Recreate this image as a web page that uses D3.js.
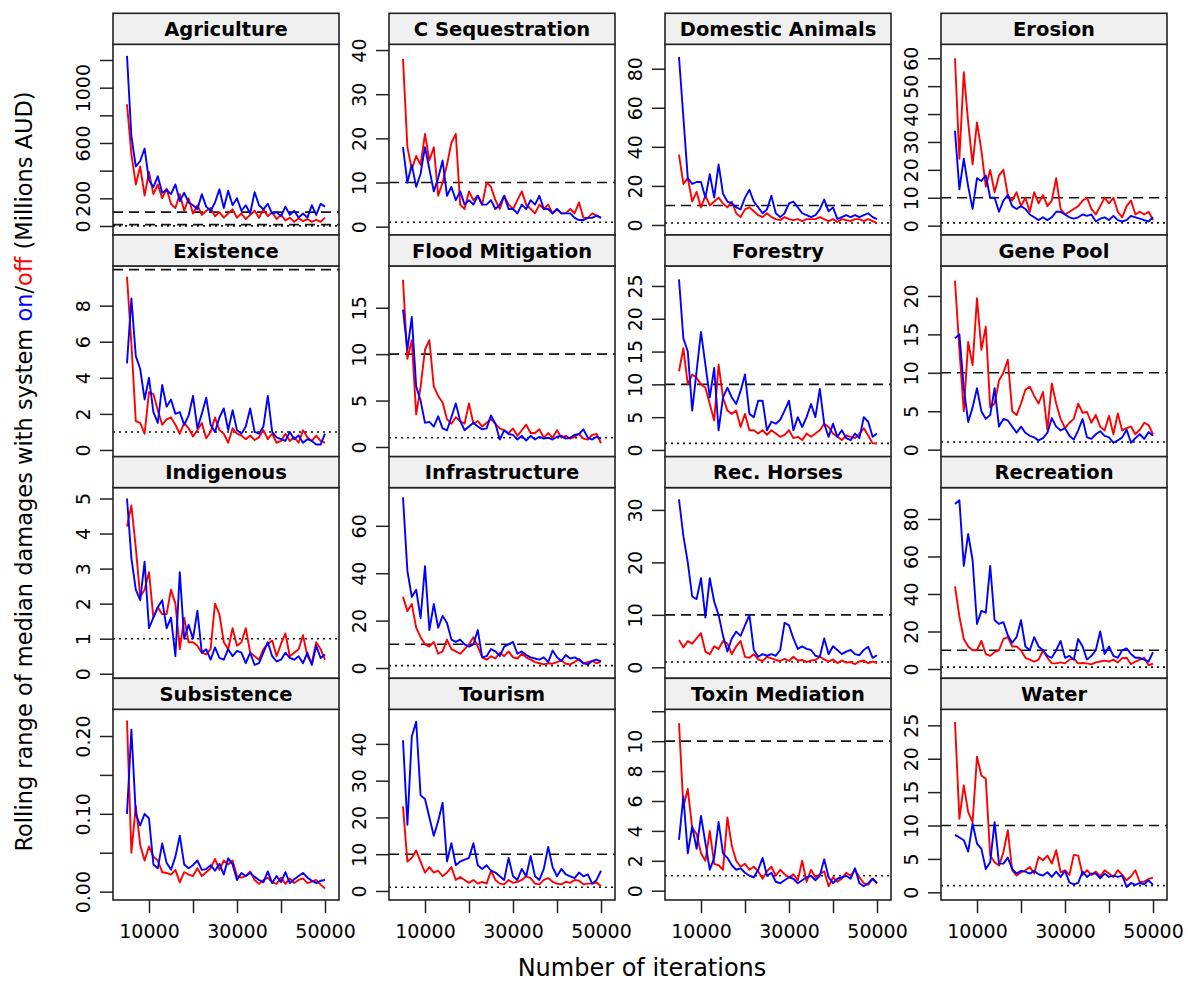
<!DOCTYPE html>
<html>
<head>
<meta charset="utf-8">
<script src="https://cdn.jsdelivr.net/npm/d3@7"></script>
<style>
  html, body { margin: 0; padding: 0; background: #fff; }
  svg { display: block; font-family: "DejaVu Sans", sans-serif; }
</style>
</head>
<body>
<svg id="chart" width="1188" height="983"></svg>
<script>
// Iteration count at which each rolling range was evaluated
const iterations = [5000, 6000, 7000, 8000, 9000, 10000, 11000, 12000, 13000, 14000,
  15000, 16000, 17000, 18000, 19000, 20000, 21000, 22000, 23000, 24000,
  25000, 26000, 27000, 28000, 29000, 30000, 31000, 32000, 33000, 34000,
  35000, 36000, 37000, 38000, 39000, 40000, 41000, 42000, 43000, 44000,
  45000, 46000, 47000, 48000, 49000, 50000];

const categories = ["Agriculture", "C Sequestration", "Domestic Animals", "Erosion",
  "Existence", "Flood Mitigation", "Forestry", "Gene Pool",
  "Indigenous", "Infrastructure", "Rec. Horses", "Recreation",
  "Subsistence", "Tourism", "Toxin Mediation", "Water"];

// Rolling range of median damages, system on (blue) / off (red)
const agricultureOn = [1230, 650, 430, 470, 560, 330, 280, 360, 240, 260, 230, 300, 180, 240, 170, 150, 120, 230, 140, 110, 170, 265, 130, 255, 150, 200, 110, 150, 90, 245, 150, 120, 160, 90, 100, 70, 140, 80, 110, 60, 90, 60, 150, 80, 160, 140];
const agricultureOff = [880, 520, 300, 430, 220, 390, 230, 300, 200, 270, 160, 130, 230, 110, 200, 90, 150, 80, 110, 130, 70, 100, 60, 90, 120, 60, 90, 50, 80, 110, 60, 120, 70, 100, 50, 80, 40, 60, 30, 55, 35, 50, 30, 45, 30, 60];
const cSequestrationOn = [18, 10, 14, 9, 12, 18, 13, 8, 11, 15, 7, 9, 6, 8, 5, 6, 5, 7, 5, 5, 6, 4, 5, 7, 4, 4, 3, 5, 4, 6, 5, 7, 4, 4, 3, 4, 3, 3, 3, 2, 1.5, 1.5, 2, 2, 2.5, 2];
const cSequestrationOff = [38, 18, 13, 16, 14, 21, 15, 18, 7, 10, 14, 19, 21, 5, 4, 8, 6, 7, 5, 10, 9, 6, 4, 7, 5, 4, 6, 8, 5, 4, 3, 5, 4, 5, 3, 4, 3, 3, 4, 3, 5.5, 2, 2, 3, 2.5, 2];
const domesticAnimalsOn = [86, 55, 24, 21, 22, 22, 14, 26, 14, 31, 16, 12, 11, 9, 8, 14, 18, 12, 9, 6, 8, 15, 6, 4, 6, 11, 12, 9, 6, 5, 4, 5, 8, 13, 7, 9, 3, 4, 5, 4, 5, 4, 5, 6, 4, 3];
const domesticAnimalsOff = [36, 21, 24, 12, 17, 9, 15, 10, 12, 14, 11, 9, 12, 6, 4, 8, 9, 7, 5, 4, 6, 4, 3, 2.5, 4, 3, 2.5, 3, 2, 3, 3, 3, 4, 3, 2, 3, 1.5, 3, 2.5, 2, 3, 3, 2, 3, 2, 1];
const erosionOn = [34, 13, 24, 14, 6, 17, 16, 18, 10, 10, 5, 9, 11, 7, 6, 7, 6, 4, 3, 2, 3, 2, 3, 5, 5, 4, 3, 2.5, 3, 4, 3.5, 4, 1.5, 2.5, 3, 2, 3.5, 2, 1.5, 2, 3.5, 3, 2.5, 2, 1.5, 3];
const erosionOff = [60, 24, 55, 37, 22, 37, 27, 14, 20, 12, 18, 20, 11, 9, 12, 7, 10, 5, 12, 8, 11, 7, 9, 17, 6, 4, 5, 6, 7, 9, 10, 6, 4, 7, 10, 8, 10, 5, 3, 7, 9, 4, 5, 4, 5, 2];
const existenceOn = [4.8, 8.4, 5.2, 4.5, 2.8, 4.0, 2.1, 1.5, 3.6, 2.4, 2.8, 2.0, 2.1, 1.4, 1.9, 3.0, 1.2, 2.0, 2.9, 1.4, 1.0, 1.8, 2.3, 1.1, 2.2, 1.1, 0.9, 1.3, 2.3, 1.0, 0.9, 1.3, 3.0, 1.0, 0.7, 0.6, 0.5, 1.0, 0.6, 0.8, 0.4, 0.6, 0.5, 0.3, 0.3, 0.9];
const existenceOff = [9.6, 5.9, 1.6, 1.5, 0.9, 3.2, 3.1, 2.2, 1.4, 1.7, 1.8, 1.4, 0.9, 1.5, 1.2, 0.75, 1.1, 1.5, 0.65, 1.0, 1.8, 1.1, 0.9, 0.4, 1.2, 0.9, 0.8, 0.6, 0.8, 0.55, 0.7, 1.1, 0.6, 0.9, 0.4, 0.5, 0.9, 0.5, 0.7, 0.4, 1.1, 0.7, 0.5, 0.8, 0.5, 0.4];
const floodMitigationOn = [14.8, 10.5, 14, 6.5, 5.0, 2.6, 2.7, 2.2, 3.3, 2.0, 1.8, 3.2, 4.7, 2.8, 1.8, 2.2, 2.6, 2.2, 1.9, 2.0, 3.4, 2.5, 0.8, 1.8, 1.4, 1.3, 0.8, 1.2, 0.7, 1.2, 0.8, 1.1, 0.9, 1.0, 0.8, 1.1, 1.2, 0.9, 1.0, 1.3, 1.4, 1.9, 1.0, 0.8, 1.1, 0.9];
const floodMitigationOff = [18, 9.5, 11.5, 3.5, 6.5, 10.5, 11.5, 6.5, 5.5, 4.8, 3.0, 2.5, 3.2, 2.8, 2.5, 4.7, 2.5, 2.8, 2.2, 2.6, 3.0, 2.5, 2.0, 1.8, 1.5, 2.0, 1.2, 1.8, 2.4, 1.5, 1.5, 1.9, 1.0, 1.5, 1.0, 1.8, 1.0, 1.2, 0.9, 1.1, 1.4, 0.9, 0.8, 1.3, 1.4, 0.4];
const forestryOn = [26, 17, 15, 6, 12, 18, 13, 8, 12.5, 3, 8, 9.5, 8, 7, 9, 11.5, 5.5, 5, 7.5, 7.5, 3, 4.3, 4, 4.6, 6, 7.5, 3, 5, 3.5, 5, 7, 5, 9.3, 4, 2, 4, 2, 3, 1.8, 1.5, 2.5, 1.8, 5, 4.3, 2, 2.5];
const forestryOff = [12, 15.5, 10, 11.5, 11, 10, 9.5, 7, 4.5, 13, 8, 6, 5.5, 6, 3.5, 5.5, 3, 3, 2.5, 3, 2.3, 3, 2.5, 2.0, 2.3, 3, 1.8, 2, 1.5, 2.5, 2.0, 2.5, 3, 4, 3.5, 2.5, 2, 1.5, 2.2, 2, 1.8, 2.5, 3.3, 2.2, 1, 1];
const genePoolOn = [14.5, 15, 8, 3.6, 5.5, 8, 5, 4, 4.5, 8, 3, 4, 3.8, 3, 2.2, 3, 2.2, 1.8, 1.6, 1.2, 1.5, 2.2, 4.1, 3, 2.5, 2.8, 1.8, 1.3, 2.5, 4, 1.6, 1.4, 2.0, 2.4, 1.8, 1.6, 0.9, 1.2, 1.6, 2.6, 0.9, 1.5, 2, 1.4, 2.3, 1.8];
const genePoolOff = [22, 13, 5, 14, 11, 19.7, 13, 16, 5.5, 6, 9, 10, 11.7, 5, 4.5, 6, 7.8, 8.2, 7, 6, 7.5, 2.6, 8.6, 6, 4, 2.8, 3.5, 4, 6, 4.8, 4.9, 3.5, 4.5, 3, 2.5, 4.4, 2, 4.7, 2.5, 2.8, 3, 2, 2.6, 3.5, 3.2, 2];
const indigenousOn = [5.0, 3.3, 2.4, 2.1, 3.2, 1.3, 1.6, 1.9, 2.1, 1.3, 1.6, 0.5, 2.9, 1.0, 1.4, 1.0, 1.8, 0.6, 0.7, 0.4, 0.75, 0.45, 0.4, 0.7, 0.5, 0.65, 0.6, 0.3, 0.6, 0.25, 0.3, 0.6, 0.9, 0.5, 0.35, 0.4, 0.6, 0.45, 0.4, 0.5, 0.3, 0.6, 0.25, 0.8, 0.45, 0.55];
const indigenousOff = [4.2, 4.8, 3.6, 2.2, 2.4, 2.9, 1.6, 1.9, 1.7, 1.7, 2.4, 2.0, 0.7, 1.6, 0.9, 0.9, 0.8, 0.6, 0.55, 0.7, 2.0, 1.7, 0.9, 0.7, 1.3, 0.8, 0.9, 1.3, 0.6, 0.5, 0.4, 0.7, 0.85, 0.95, 0.5, 0.85, 1.15, 0.5, 0.6, 0.7, 1.1, 0.5, 0.3, 0.9, 0.7, 0.4];
const infrastructureOn = [72, 41, 30, 33, 21, 43, 16, 27, 17, 22, 19, 12, 11, 12, 10, 9, 10, 16, 4.5, 5, 8, 7, 5, 9, 10, 11, 6, 7, 5.5, 4.5, 4, 3.5, 4.5, 2.5, 7.4, 4.5, 3, 5.5, 4, 4.5, 3.5, 2, 1.5, 3, 3.5, 2.8];
const infrastructureOff = [30, 24, 27, 17, 13, 10, 9, 11, 6, 7, 12, 8, 7, 6, 8, 10, 13, 9, 4.5, 3.5, 5, 4, 6.5, 5, 7, 4.5, 4, 6, 4.5, 3.5, 2.5, 2, 1.5, 2, 1.8, 2.5, 3.2, 1.8, 1.5, 2.5, 3.8, 2.0, 2.5, 3, 2, 2.8];
const recHorsesOn = [32, 25, 20, 13.5, 13, 17, 9.5, 17, 12.5, 10, 6, 3, 5.5, 6.8, 6, 8, 10, 3.3, 2, 2.5, 2.2, 2.5, 2.2, 3.3, 8.5, 8, 5.5, 3.5, 4, 3.5, 3.3, 2.2, 2, 5.5, 2.5, 4, 3.3, 2.5, 3.0, 3.3, 2.5, 2.3, 3.3, 3.9, 1.8, 2.3];
const recHorsesOff = [5.2, 3.8, 5, 4.5, 5.5, 6.5, 3, 2.5, 4, 3.5, 5, 4.5, 2.5, 4, 5, 2, 1.8, 2.5, 1.5, 1.2, 2, 1.7, 1.4, 1.2, 1.6, 1.2, 2, 1.3, 1.4, 1.0, 1.3, 1.4, 2, 1.5, 1.1, 1.5, 0.8, 1.3, 0.9, 1.0, 0.6, 1.1, 1.3, 0.8, 1.1, 0.8];
const recreationOn = [88, 90, 55, 72, 58, 24, 31, 30, 55, 26, 24, 25, 18, 14, 17, 26, 12, 10, 17, 12, 10, 7, 6, 10, 15, 6, 7, 5, 16, 12, 5, 7, 10, 20, 8, 12, 7, 6, 10, 11, 8, 6, 6, 5, 4, 9];
const recreationOff = [44, 28, 16, 12, 10, 10, 15, 8, 7, 9, 10, 16, 17, 12, 12, 10, 6, 5, 4, 5, 10, 6, 3, 3, 3.5, 3, 5, 5.5, 3, 3.2, 3, 2.5, 3.5, 4, 4.5, 4, 5, 3.5, 5.8, 6, 2.5, 4, 5, 6, 2, 2.8];
const subsistenceOn = [0.1, 0.208, 0.1, 0.085, 0.1, 0.094, 0.035, 0.03, 0.062, 0.037, 0.028, 0.045, 0.072, 0.035, 0.03, 0.034, 0.04, 0.028, 0.029, 0.034, 0.027, 0.036, 0.022, 0.043, 0.035, 0.015, 0.024, 0.02, 0.024, 0.019, 0.015, 0.012, 0.026, 0.011, 0.02, 0.012, 0.025, 0.011, 0.016, 0.02, 0.024, 0.018, 0.014, 0.011, 0.014, 0.015];
const subsistenceOff = [0.22, 0.05, 0.11, 0.06, 0.04, 0.058, 0.045, 0.04, 0.025, 0.024, 0.022, 0.028, 0.012, 0.025, 0.022, 0.02, 0.03, 0.02, 0.025, 0.03, 0.042, 0.028, 0.04, 0.035, 0.04, 0.02, 0.018, 0.02, 0.026, 0.015, 0.01, 0.015, 0.018, 0.012, 0.01, 0.018, 0.01, 0.017, 0.011, 0.015, 0.017, 0.011, 0.013, 0.015, 0.009, 0.004];
const tourismOn = [41, 18, 42, 46, 26, 25, 20, 15, 19, 24, 8, 13, 7, 8, 8.5, 9, 13, 7, 6, 7, 5.5, 5, 4, 3, 9, 4, 3, 6, 4, 9.5, 4, 3, 6, 12, 6.5, 4, 6, 4.5, 4, 3.5, 5, 4, 4.5, 2, 3, 5.5];
const tourismOff = [23, 8, 9, 11, 8, 5, 6.5, 5, 5.5, 4, 5, 6.5, 3, 3.8, 3, 2.2, 3, 2, 2.5, 2, 5.5, 3, 2, 1.8, 3, 2.2, 2.5, 3, 4, 3.5, 2, 1.8, 3, 3.5, 2.5, 2, 1.8, 2.5, 2.2, 3, 2.8, 1.8, 2, 2, 2.3, 1.3];
const toxinMediationOn = [3.4, 6.3, 2.5, 4.3, 2.8, 5.0, 3.2, 1.4, 2.2, 4.6, 2.5, 2.2, 1.7, 1.4, 1.5, 1.2, 1.0, 0.9, 1.4, 2.2, 1.0, 1.2, 0.6, 0.5, 0.7, 0.9, 0.8, 0.5, 0.7, 0.9, 1.0, 0.7, 1.0, 2.1, 0.9, 0.5, 0.8, 0.9, 1.0, 0.8, 1.5, 0.5, 0.3, 0.5, 0.8, 0.5];
const toxinMediationOff = [11.2, 5.6, 6.8, 4.2, 3.8, 2.5, 2, 4, 1.8, 1.7, 1.4, 4.9, 3, 2, 1.6, 1.8, 1.4, 1.6, 1.3, 0.8, 1.3, 1.6, 1.0, 1.4, 1.1, 0.9, 1.1, 0.7, 2.0, 0.6, 1.4, 0.9, 1.1, 1.3, 0.3, 0.9, 0.6, 0.8, 1.2, 1.0, 1.4, 0.9, 0.5, 0.4, 0.8, 0.5];
const waterOn = [8.6, 8.2, 7.8, 6.1, 10.3, 7.3, 6.5, 3.5, 4.5, 10.5, 4.3, 4.3, 5.2, 3.5, 2.8, 3.2, 3.1, 2.8, 3.2, 2.7, 2.5, 3.0, 2.3, 3.1, 2.3, 3.2, 1.5, 1.2, 1.4, 3.1, 2.3, 2.8, 2.8, 2.1, 2.8, 2.3, 2.5, 2.3, 2.5, 0.8, 1.4, 1.1, 1.4, 1.2, 1.8, 1.1];
const waterOff = [25.5, 11, 16, 12, 10.5, 20.3, 17.5, 17, 5.5, 4.5, 4, 6, 9.3, 3.3, 2.5, 3, 3.3, 3.8, 2.8, 5.3, 4.8, 5.5, 4.3, 6.3, 3, 3.3, 2.6, 5.6, 5.5, 2.6, 3.3, 2.6, 3.1, 2.4, 3.3, 2.8, 2.3, 3.3, 2.6, 1.8, 2.4, 3.3, 1.5, 1.6, 2, 2.2];

// Y-axis tick positions and the labels printed beside them
const yTickValues = [
  [0, 200, 400, 600, 800, 1000, 1200], [0, 10, 20, 30, 40], [0, 20, 40, 60, 80], [0, 10, 20, 30, 40, 50, 60],
  [0, 2, 4, 6, 8], [0, 5, 10, 15], [0, 5, 10, 15, 20, 25], [0, 5, 10, 15, 20],
  [0, 1, 2, 3, 4, 5], [0, 20, 40, 60], [0, 10, 20, 30], [0, 20, 40, 60, 80],
  [0, 0.05, 0.10, 0.15, 0.20], [0, 10, 20, 30, 40], [0, 2, 4, 6, 8, 10, 12], [0, 5, 10, 15, 20, 25]
];
const yTickLabels = [
  ["0", "200", "", "600", "", "1000", ""], ["0", "10", "20", "30", "40"], ["0", "20", "40", "60", "80"], ["0", "10", "20", "30", "40", "50", "60"],
  ["0", "2", "4", "6", "8"], ["0", "5", "10", "15"], ["0", "5", "10", "15", "20", "25"], ["0", "5", "10", "15", "20"],
  ["0", "1", "2", "3", "4", "5"], ["0", "20", "40", "60"], ["0", "10", "20", "30"], ["0", "20", "40", "60", "80"],
  ["0.00", "", "0.10", "", "0.20"], ["0", "10", "20", "30", "40"], ["0", "2", "4", "6", "8", "10", ""], ["0", "5", "10", "15", "20", "25"]
];
const xTickValues = [10000, 20000, 30000, 40000, 50000];
const xTickLabels = ["10000", "", "30000", "", "50000"];

// Reference thresholds (dashed and dotted horizontal lines)
const dashedLevels = [[100, 10], [10], [10], [10], [10], [10], [10], [10], [10], [10], [10], [10], [10], [10], [10], [10]];
const dottedLevels = [[1], [1], [1], [1], [1], [1], [1], [1], [1], [1], [1], [1], [1], [1], [1], [1]];

// Axis extents of each panel
const xDomain = [1820, 53180];
const yDomains = [
  [-65, 1313.5], [-1.88, 41.3], [-5.12, 92.5], [-3.33, 65.0],
  [-0.37, 10.2], [-1.04, 19.5], [-1.02, 28.05], [-0.91, 23.9],
  [-0.13, 5.31], [-4.35, 76.1], [-2.1, 34.25], [-4.96, 96.7],
  [-0.0107, 0.2343], [-2.45, 49.4], [-0.62, 12.13], [-1.15, 27.4]
];

const seriesOn = [agricultureOn, cSequestrationOn, domesticAnimalsOn, erosionOn, existenceOn, floodMitigationOn,
  forestryOn, genePoolOn, indigenousOn, infrastructureOn, recHorsesOn, recreationOn, subsistenceOn,
  tourismOn, toxinMediationOn, waterOn];
const seriesOff = [agricultureOff, cSequestrationOff, domesticAnimalsOff, erosionOff, existenceOff, floodMitigationOff,
  forestryOff, genePoolOff, indigenousOff, infrastructureOff, recHorsesOff, recreationOff, subsistenceOff,
  tourismOff, toxinMediationOff, waterOff];

// ---- layout ----
const colLeft = [113, 389, 665, 941];
const boxW = 226;
const firstTop = 13.3, rowPitch = 221.67, stripH = 31;
const ON_COLOR = "#0000ff", OFF_COLOR = "#ff0000", FRAME = "#222";

const svg = d3.select("#chart");
const defs = svg.append("defs");

categories.forEach((name, k) => {
  const r = Math.floor(k / 4), c = k % 4;
  const left = colLeft[c], right = left + boxW;
  const top = firstTop + r * rowPitch;
  const plotTop = top + stripH, bottom = top + rowPitch;

  const x = d3.scaleLinear().domain(xDomain).range([left, right]);
  const y = d3.scaleLinear().domain(yDomains[k]).range([bottom, plotTop]);

  const g = svg.append("g").attr("class", "panel");

  defs.append("clipPath").attr("id", "clip" + k)
    .append("rect").attr("x", left).attr("y", plotTop)
    .attr("width", boxW).attr("height", bottom - plotTop);

  const inner = g.append("g").attr("clip-path", `url(#clip${k})`);

  dashedLevels[k].forEach(v => {
    inner.append("line")
      .attr("x1", left).attr("x2", right).attr("y1", y(v)).attr("y2", y(v))
      .attr("stroke", "#111").attr("stroke-width", 1.6).attr("stroke-dasharray", "10,6");
  });
  dottedLevels[k].forEach(v => {
    inner.append("line")
      .attr("x1", left).attr("x2", right).attr("y1", y(v)).attr("y2", y(v))
      .attr("stroke", "#111").attr("stroke-width", 1.6).attr("stroke-dasharray", "2,4");
  });

  const line = d3.line().x((d, i) => x(iterations[i])).y(d => y(d));
  inner.append("path").datum(seriesOff[k]).attr("d", line)
    .attr("fill", "none").attr("stroke", OFF_COLOR).attr("stroke-width", 1.9).attr("stroke-linejoin", "round");
  inner.append("path").datum(seriesOn[k]).attr("d", line)
    .attr("fill", "none").attr("stroke", ON_COLOR).attr("stroke-width", 1.9).attr("stroke-linejoin", "round");

  // plot frame
  g.append("rect").attr("x", left).attr("y", plotTop).attr("width", boxW).attr("height", bottom - plotTop)
    .attr("fill", "none").attr("stroke", FRAME).attr("stroke-width", 1.6);

  // strip header
  g.append("rect").attr("x", left).attr("y", top).attr("width", boxW).attr("height", stripH)
    .attr("fill", "#f0f0f0").attr("stroke", FRAME).attr("stroke-width", 1.6);
  g.append("text").attr("x", (left + right) / 2).attr("y", top + stripH / 2 + 7.2)
    .attr("text-anchor", "middle").attr("font-weight", "bold").attr("font-size", 19.5)
    .attr("fill", "#000").text(name);

  // y axis with labels turned parallel to the axis
  const yAxis = d3.axisLeft(y).tickValues(yTickValues[k]).tickSize(13).tickSizeOuter(0)
    .tickFormat((d, i) => yTickLabels[k][i]);
  const ya = g.append("g").attr("transform", `translate(${left},0)`).call(yAxis);
  ya.select(".domain").remove();
  ya.selectAll(".tick line").attr("stroke", FRAME).attr("stroke-width", 1.5);
  ya.selectAll(".tick text")
    .attr("x", 0).attr("y", -23).attr("dy", null)
    .attr("transform", "rotate(-90)").attr("text-anchor", "middle")
    .attr("font-family", "DejaVu Sans").attr("font-size", 19).attr("fill", "#000");

  // x axis only on the bottom row
  if (r === 3) {
    const xAxis = d3.axisBottom(x).tickValues(xTickValues).tickSize(13).tickSizeOuter(0)
      .tickFormat((d, i) => xTickLabels[i]);
    const xa = g.append("g").attr("transform", `translate(0,${bottom})`).call(xAxis);
    xa.select(".domain").remove();
    xa.selectAll(".tick line").attr("stroke", FRAME).attr("stroke-width", 1.5);
    xa.selectAll(".tick text")
      .attr("y", 38.3).attr("dy", null)
      .attr("font-family", "DejaVu Sans").attr("font-size", 19).attr("fill", "#000");
  }
});

// axis titles
svg.append("text").attr("x", 642).attr("y", 976).attr("text-anchor", "middle")
  .attr("font-size", 24).attr("fill", "#000").text("Number of iterations");

const yTitle = svg.append("text").attr("transform", "translate(32,471.5) rotate(-90)")
  .attr("text-anchor", "middle").attr("font-size", 22.5).attr("fill", "#000");
yTitle.append("tspan").text("Rolling range of median damages with system ");
yTitle.append("tspan").attr("fill", ON_COLOR).text("on");
yTitle.append("tspan").text("/");
yTitle.append("tspan").attr("fill", OFF_COLOR).text("off");
yTitle.append("tspan").text(" (Millions AUD)");
</script>
</body>
</html>
